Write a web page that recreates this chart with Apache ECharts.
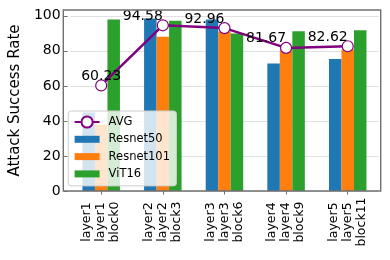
<!DOCTYPE html>
<html><head><meta charset="utf-8">
<script src="https://cdn.jsdelivr.net/npm/echarts@6/dist/echarts.min.js"></script>
<style>html,body{margin:0;padding:0;background:#fff}#c{width:390px;height:260px}</style>
</head><body><div id="c"></div>
<script>
const categories = ['layer1\nlayer1\nblock0', 'layer2\nlayer2\nblock3', 'layer3\nlayer3\nblock6', 'layer4\nlayer4\nblock9', 'layer5\nlayer5\nblock11'];
const resnet50 = [44.8, 98.5, 97.9, 72.8, 75.3];
const resnet101 = [38.0, 88.0, 91.0, 81.0, 80.8];
const vit16 = [97.9, 97.1, 89.9, 91.2, 91.8];
const avg = [60.23, 94.58, 92.96, 81.67, 82.62];
const yTicks = [0, 20, 40, 60, 80, 100];
const avgLabelAlign = ['center', 'right', 'right', 'right', 'right'];

const FONT = 'DejaVu Sans';
const PURPLE = '#800080';
const RECT_ICON = 'path://M0,0h25v7h-25z';
const chart = echarts.init(document.getElementById('c'), null, {renderer: 'canvas'});
chart.setOption({
  animation: false,
  textStyle: {fontFamily: FONT},
  grid: [
    {left: 66.05, right: 11.45, top: 10, bottom: 69},
    {left: 63.3, right: 9.3, top: 10, bottom: 69, show: true, borderColor: '#707070', borderWidth: 1.4, backgroundColor: 'transparent', z: 10}
  ],
  xAxis: [
    {type: 'category', gridIndex: 0, data: categories,
     axisLine: {show: false},
     axisTick: {show: true, alignWithLabel: true, length: 3.5, lineStyle: {color: '#707070', width: 1}},
     axisLabel: {rotate: 90, align: 'center', margin: 31, fontSize: 12.5, lineHeight: 14, color: '#000', fontFamily: FONT, interval: 0, padding: [0, 0, 5, 0]},
     splitLine: {show: false}},
    {type: 'value', gridIndex: 1, show: false}
  ],
  yAxis: [
    {type: 'value', gridIndex: 0, min: 0, max: 103.3, offset: 2.75,
     name: 'Attack Success Rate', nameLocation: 'middle', nameRotate: 90, nameGap: 40,
     nameTextStyle: {fontSize: 15, color: '#000', fontFamily: FONT},
     axisLine: {show: false},
     axisTick: {show: true, length: 3.5, customValues: yTicks, lineStyle: {color: '#707070', width: 1}},
     axisLabel: {customValues: yTicks, fontSize: 14, color: '#000', margin: 7, fontFamily: FONT},
     splitLine: {show: true, lineStyle: {color: '#e0e0e0', width: 1}}},
    {type: 'value', gridIndex: 1, show: false}
  ],
  legend: {
    orient: 'vertical', left: 68.3, top: 111,
    data: [
      {name: 'AVG'},
      {name: 'Resnet50', icon: RECT_ICON},
      {name: 'Resnet101', icon: RECT_ICON},
      {name: 'ViT16', icon: RECT_ICON}
    ],
    itemWidth: 25, itemHeight: 14, itemGap: 3.3, symbolKeepAspect: true,
    padding: [4, 6.5, 5, 5.3],
    backgroundColor: 'rgba(255,255,255,0.8)', borderColor: '#cccccc', borderWidth: 1, borderRadius: 3,
    textStyle: {fontSize: 11.5, lineHeight: 14, color: '#000', fontFamily: FONT, padding: [0, 0, 0, 4]}
  },
  series: [
    {name: 'Resnet50', type: 'bar', data: resnet50, barWidth: 12.5, barGap: '0%', itemStyle: {color: '#1f77b4'}},
    {name: 'Resnet101', type: 'bar', data: resnet101, barWidth: 12.5, barGap: '0%', itemStyle: {color: '#ff7f0e'}},
    {name: 'ViT16', type: 'bar', data: vit16, barWidth: 12.5, barGap: '0%', itemStyle: {color: '#2ca02c'}},
    {name: 'AVG', type: 'line', z: 5,
     data: avg.map((v, i) => ({value: v, label: {align: avgLabelAlign[i]}})),
     symbol: 'circle', symbolSize: 11,
     lineStyle: {color: PURPLE, width: 2.5},
     itemStyle: {color: '#ffffff', borderColor: PURPLE, borderWidth: 1.2},
     label: {show: true, position: 'top', distance: -4, fontSize: 14, color: '#000', fontFamily: FONT,
             formatter: p => p.value.toFixed(2)}}
  ]
});
</script></body></html>
